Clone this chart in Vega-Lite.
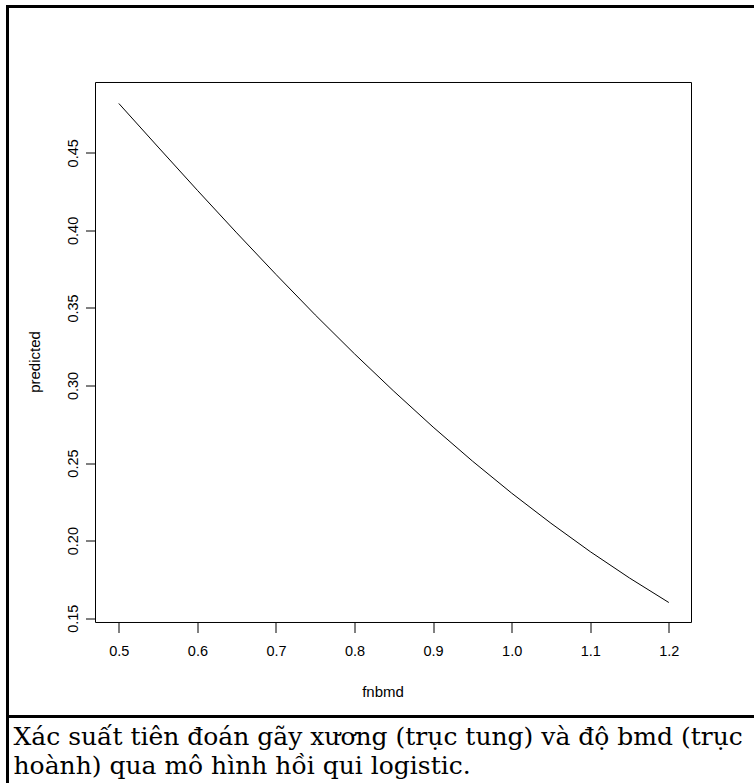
{
  "$schema": "https://vega.github.io/schema/vega-lite/v6.json",
  "background": "white",
  "padding": {"left": 5.5, "top": 4.5, "right": 0, "bottom": 0},
  "spacing": 0,
  "bounds": "flush",
  "config": {
    "view": {"stroke": "black", "strokeWidth": 3, "fill": null},
    "axis": {
      "grid": false,
      "domain": false,
      "ticks": true,
      "tickColor": "black",
      "tickSize": 10,
      "tickWidth": 1,
      "labelFont": "Liberation Sans",
      "labelFontSize": 14.5,
      "labelColor": "black",
      "labelFlush": false,
      "labelOverlap": false,
      "titleFont": "Liberation Sans",
      "titleFontSize": 15,
      "titleFontWeight": "normal",
      "titleColor": "black"
    }
  },
  "vconcat": [
    {
      "width": 750,
      "height": 710,
      "data": {
        "values": [
          {"fnbmd": 0.50, "predicted": 0.4818},
          {"fnbmd": 0.55, "predicted": 0.4537},
          {"fnbmd": 0.60, "predicted": 0.4258},
          {"fnbmd": 0.65, "predicted": 0.3984},
          {"fnbmd": 0.70, "predicted": 0.3716},
          {"fnbmd": 0.75, "predicted": 0.3455},
          {"fnbmd": 0.80, "predicted": 0.3204},
          {"fnbmd": 0.85, "predicted": 0.2963},
          {"fnbmd": 0.90, "predicted": 0.2732},
          {"fnbmd": 0.95, "predicted": 0.2513},
          {"fnbmd": 1.00, "predicted": 0.2306},
          {"fnbmd": 1.05, "predicted": 0.2112},
          {"fnbmd": 1.10, "predicted": 0.1929},
          {"fnbmd": 1.15, "predicted": 0.1759},
          {"fnbmd": 1.20, "predicted": 0.1601}
        ]
      },
      "layer": [
        {
          "mark": {"type": "line", "color": "black", "strokeWidth": 1},
          "encoding": {
            "x": {
              "field": "fnbmd",
              "type": "quantitative",
              "title": "fnbmd",
              "scale": {"domain": [0.3583, 1.3129], "nice": false, "zero": false},
              "axis": {
                "values": [0.5, 0.6, 0.7, 0.8, 0.9, 1.0, 1.1, 1.2],
                "format": ".1f",
                "offset": -94,
                "labelPadding": 12,
                "titlePadding": 26
              }
            },
            "y": {
              "field": "predicted",
              "type": "quantitative",
              "title": "predicted",
              "scale": {"domain": [0.08662, 0.54431], "nice": false, "zero": false},
              "axis": {
                "values": [0.15, 0.2, 0.25, 0.3, 0.35, 0.4, 0.45],
                "format": ".2f",
                "offset": -88,
                "labelAngle": 270,
                "labelAlign": "center",
                "labelBaseline": "alphabetic",
                "labelPadding": 8,
                "titlePadding": 23
              }
            }
          }
        },
        {
          "data": {"values": [{}]},
          "mark": {"type": "rect", "filled": false, "stroke": "black", "strokeWidth": 1},
          "encoding": {
            "x": {"datum": 0.47031, "type": "quantitative", "title": "fnbmd"},
            "x2": {"datum": 1.22891},
            "y": {"datum": 0.14722, "type": "quantitative", "title": "predicted"},
            "y2": {"datum": 0.49532}
          }
        }
      ]
    },
    {
      "width": 750,
      "height": 70,
      "data": {
        "values": [
          {"line": 1, "caption": "Xác suất tiên đoán gãy xương (trục tung) và độ bmd (trục"},
          {"line": 2, "caption": "hoành) qua mô hình hồi qui logistic."}
        ]
      },
      "mark": {
        "type": "text",
        "align": "left",
        "baseline": "middle",
        "dx": 6,
        "font": "DejaVu Serif",
        "fontSize": 25,
        "color": "black"
      },
      "encoding": {
        "x": {"datum": 0, "type": "quantitative", "scale": {"domain": [0, 1]}, "axis": null},
        "y": {"field": "line", "type": "ordinal", "axis": null, "scale": {"type": "band", "paddingInner": 0, "paddingOuter": 0.1667}},
        "text": {"field": "caption"}
      }
    }
  ]
}
